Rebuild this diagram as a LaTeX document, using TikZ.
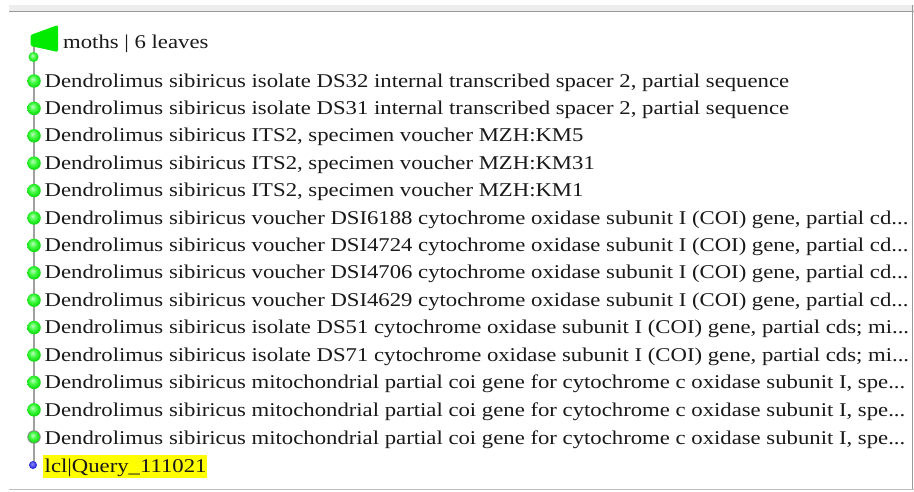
\documentclass[tikz,border=0pt]{standalone}
\usepackage{fontspec}
\setmainfont{Liberation Serif}[FakeStretch=1.165]
\definecolor{gl}{RGB}{190,255,190}
\definecolor{gm}{RGB}{60,250,60}
\definecolor{gd}{RGB}{20,220,20}
\definecolor{bl}{RGB}{140,140,255}
\definecolor{bd}{RGB}{30,30,220}
\definecolor{txt}{RGB}{25,25,25}
\definecolor{branch}{RGB}{160,160,160}
\definecolor{hl}{RGB}{255,255,0}
\definecolor{flag}{RGB}{0,235,0}
\pgfdeclareradialshading{gball}{\pgfpoint{-6bp}{8bp}}{color(0bp)=(gl); color(14bp)=(gm); color(25bp)=(gd); color(50bp)=(gd)}
\pgfdeclareradialshading{bball}{\pgfpoint{-6bp}{8bp}}{color(0bp)=(bl); color(25bp)=(bd); color(50bp)=(bd)}
\tikzset{
  leaf/.style={circle, inner sep=0pt, minimum size=13.5pt, shading=gball},
  leaflbl/.style={anchor=west, inner sep=0pt, text=txt, font=\fontsize{19.5}{22}\selectfont},
  branchline/.style={draw=branch, line width=2pt}
}
\begin{document}
\begin{tikzpicture}[x=1pt,y=-1pt]
\useasboundingbox (0,0) rectangle (914,492);
\fill[white] (0,0) rectangle (914,492);
% frame
\fill[black!7] (9,5) rectangle (914,11);
\draw[black!40, line width=1.2pt] (9,11.5) -- (914,11.5);
\draw[black!40, line width=1pt] (912.5,5) -- (912.5,490);
\draw[black!25, line width=1pt] (9,489.5) -- (914,489.5);
% tree trunk
\coordinate (top) at (34,45);
\coordinate (bot) at (34,462);
\draw[branchline] (top) -- (bot);
% flag for collapsed clade
\fill[flag, rounded corners=1.5pt] (30.5,35) -- (58,25) -- (58,52) -- (30.5,46) -- cycle;
\node[leaflbl, anchor=west] (moths) at (63,43.5) {moths | 6 leaves};
\node[circle, inner sep=0pt, minimum size=10pt, shading=gball] (n0) at (33.5,57) {};
% leaves
\foreach \i/\t in {
0/{Dendrolimus sibiricus isolate DS32 internal transcribed spacer 2, partial sequence},
1/{Dendrolimus sibiricus isolate DS31 internal transcribed spacer 2, partial sequence},
2/{Dendrolimus sibiricus ITS2, specimen voucher MZH:KM5},
3/{Dendrolimus sibiricus ITS2, specimen voucher MZH:KM31},
4/{Dendrolimus sibiricus ITS2, specimen voucher MZH:KM1},
5/{Dendrolimus sibiricus voucher DSI6188 cytochrome oxidase subunit I (COI) gene, partial cd...},
6/{Dendrolimus sibiricus voucher DSI4724 cytochrome oxidase subunit I (COI) gene, partial cd...},
7/{Dendrolimus sibiricus voucher DSI4706 cytochrome oxidase subunit I (COI) gene, partial cd...},
8/{Dendrolimus sibiricus voucher DSI4629 cytochrome oxidase subunit I (COI) gene, partial cd...},
9/{Dendrolimus sibiricus isolate DS51 cytochrome oxidase subunit I (COI) gene, partial cds; mi...},
10/{Dendrolimus sibiricus isolate DS71 cytochrome oxidase subunit I (COI) gene, partial cds; mi...},
11/{Dendrolimus sibiricus mitochondrial partial coi gene for cytochrome c oxidase subunit I, spe...},
12/{Dendrolimus sibiricus mitochondrial partial coi gene for cytochrome c oxidase subunit I, spe...}}
{
  \node[leaf] (b\i) at (34,{81+27.4*\i}) {};
  \node[leaflbl] (l\i) at (44.5,{82.5+27.4*\i}) {\t};
}
\node[leaf, draw=black!45, line width=0.8pt, minimum size=12.5pt] (b13) at (34,437) {};
\node[leaflbl] (l13) at (44.5,439.5) {Dendrolimus sibiricus mitochondrial partial coi gene for cytochrome c oxidase subunit I, spe...};
% query
\node[fill=hl, inner sep=0pt, minimum height=23pt, text width=164pt, anchor=west] (qbox) at (43,466.5) {};
\node[circle, inner sep=0pt, minimum size=8pt, shading=bball] (q) at (33,465) {};
\node[leaflbl] (ql) at (44.5,468) {lcl|Query\_111021};
\end{tikzpicture}
\end{document}
